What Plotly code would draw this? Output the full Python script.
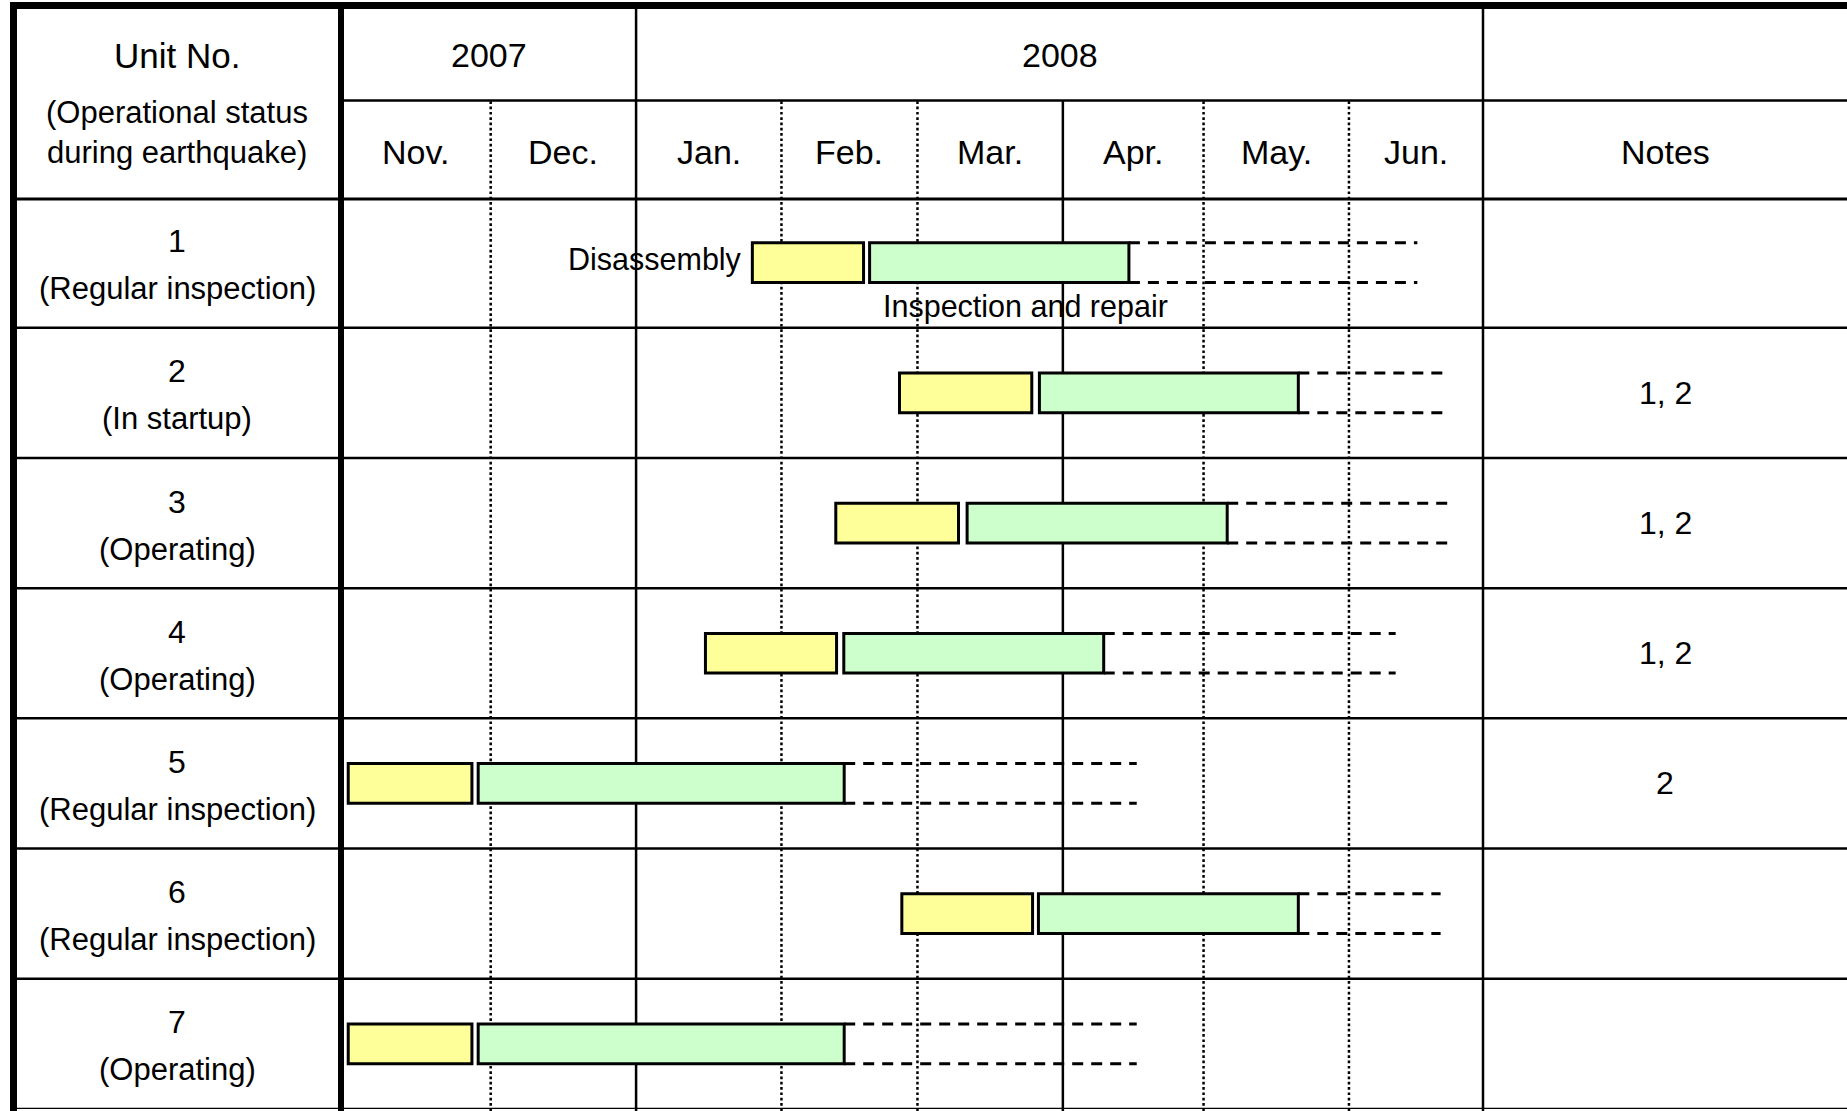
import plotly.graph_objects as go
import pandas as pd

W, H = 1847, 1111
FONT = "Liberation Sans, Arial, Helvetica, sans-serif"

# ---------------- data ----------------
units = ["1", "2", "3", "4", "5", "6", "7"]
status = ["(Regular inspection)", "(In startup)", "(Operating)", "(Operating)",
          "(Regular inspection)", "(Regular inspection)", "(Operating)"]
notes = ["", "1, 2", "1, 2", "1, 2", "2", "", ""]

disassembly_start = ["2008-01-25 19:00", "2008-02-26 04:00", "2008-02-12 14:00", "2008-01-15 19:00",
                     "2007-10-31 15:00", "2008-02-26 16:00", "2007-10-31 15:00"]
disassembly_end = ["2008-02-18 12:00", "2008-03-25 09:00", "2008-03-09 18:00", "2008-02-12 18:00",
                   "2007-11-27 00:00", "2008-03-25 13:00", "2007-11-27 00:00"]
repair_start = ["2008-02-19 19:00", "2008-03-27 00:00", "2008-03-11 14:00", "2008-02-14 07:00",
                "2007-11-28 08:00", "2008-03-26 19:00", "2007-11-28 08:00"]
repair_end = ["2008-04-15 02:00", "2008-05-21 05:00", "2008-05-06 01:00", "2008-04-09 17:00",
              "2008-02-14 09:00", "2008-05-21 05:00", "2008-02-14 09:00"]
extension_end = ["2008-06-15 14:00", "2008-06-21 21:00", "2008-06-22 08:00", "2008-06-10 23:00",
                 "2008-04-16 18:00", "2008-06-20 13:00", "2008-04-16 18:00"]

months = ["Nov.", "Dec.", "Jan.", "Feb.", "Mar.", "Apr.", "May.", "Jun."]
month_starts = ["2007-11-01", "2007-12-01", "2008-01-01", "2008-02-01",
                "2008-03-01", "2008-04-01", "2008-05-01", "2008-06-01"]
solid_month_lines = ["2008-01-01", "2008-04-01"]
years = ["2007", "2008"]
year_start = "2008-01-01"

header_unit = "Unit No."
header_status = ["(Operational status", "during earthquake)"]
header_notes = "Notes"
label_disassembly = "Disassembly"
label_repair = "Inspection and repair"

x_range = ["2007-10-30 02:00", "2008-06-29 14:00"]

# ---------------- helpers ----------------
def px_x(x):
    return x / W


def px_y(y):
    return 1 - y / H


def ms(a, b):
    return [(pd.Timestamp(e) - pd.Timestamp(s)).total_seconds() * 1000 for s, e in zip(a, b)]


def mid(a, b):
    ta, tb = pd.Timestamp(a), pd.Timestamp(b)
    return (ta + (tb - ta) / 2).strftime("%Y-%m-%d %H:%M:%S")


ypos = list(range(1, len(units) + 1))
BW = 0.305
X0, X1 = 341, 1483          # gantt area (px)
Y_TOP, Y_BOT = 197.5, 1109  # body (px)

fig = go.Figure()

# dashed extension lines
dx, dy = [], []
for k, s, e in zip(ypos, repair_end, extension_end):
    for off in (-BW / 2, BW / 2):
        dx += [s, e, None]
        dy += [k + off, k + off, None]
fig.add_trace(go.Scatter(x=dx, y=dy, mode="lines", hoverinfo="skip", showlegend=False,
                         line=dict(color="black", width=3, dash="11px,8px")))

fig.add_trace(go.Bar(orientation="h", y=ypos, base=disassembly_start,
                     x=ms(disassembly_start, disassembly_end), width=BW,
                     marker=dict(color="#FFFF99", line=dict(color="black", width=3)),
                     hoverinfo="skip", showlegend=False))
fig.add_trace(go.Bar(orientation="h", y=ypos, base=repair_start,
                     x=ms(repair_start, repair_end), width=BW,
                     marker=dict(color="#CCFFCC", line=dict(color="black", width=3)),
                     hoverinfo="skip", showlegend=False))

shapes = []
# outer borders
shapes.append(dict(type="line", xref="paper", yref="paper", x0=px_x(10), x1=1,
                   y0=px_y(5.5), y1=px_y(5.5), line=dict(color="black", width=7)))
shapes.append(dict(type="line", xref="paper", yref="paper", x0=px_x(13.5), x1=px_x(13.5),
                   y0=px_y(2), y1=0, line=dict(color="black", width=7)))
# unit column divider (thick)
shapes.append(dict(type="line", xref="paper", yref="paper", x0=px_x(X0), x1=px_x(X0),
                   y0=px_y(5.5), y1=0, line=dict(color="black", width=6)))
# notes column divider
shapes.append(dict(type="line", xref="paper", yref="paper", x0=px_x(X1), x1=px_x(X1),
                   y0=px_y(5.5), y1=0, line=dict(color="black", width=2.5)))
# year / month header separator
shapes.append(dict(type="line", xref="paper", yref="paper", x0=px_x(X0), x1=1,
                   y0=px_y(100.5), y1=px_y(100.5), line=dict(color="black", width=2.5)))
# header bottom (thick)
shapes.append(dict(type="line", xref="paper", yref="y", x0=px_x(10), x1=1,
                   y0=0.5, y1=0.5, line=dict(color="black", width=6)))
# row separators
for k in ypos:
    shapes.append(dict(type="line", xref="paper", yref="y", x0=px_x(10), x1=1,
                       y0=k + 0.5, y1=k + 0.5, line=dict(color="black", width=2.5)))
# month lines
for m in month_starts[1:]:
    if m in solid_month_lines:
        top = px_y(5.5) if m == year_start else px_y(100.5)
        shapes.append(dict(type="line", xref="x", yref="paper", x0=m, x1=m, y0=0, y1=top,
                           layer="below", line=dict(color="black", width=2.5)))
    else:
        shapes.append(dict(type="line", xref="x", yref="paper", x0=m, x1=m, y0=0, y1=px_y(100.5),
                           layer="below", line=dict(color="black", width=2.5, dash="2.7px,2.6px")))

ann = []


def text(x, y, s, size, xref="paper", yref="paper", xanchor="center", **kw):
    d = dict(x=x, y=y, xref=xref, yref=yref, text=s, showarrow=False,
             xanchor=xanchor, yanchor="middle",
             font=dict(family=FONT, size=size, color="black"))
    d.update(kw)
    ann.append(d)


UX = px_x((13.5 + X0) / 2)
text(UX, px_y(55), header_unit, 35)
text(UX, px_y(113), header_status[0], 31)
text(UX, px_y(153), header_status[1], 31)

# years
bounds_year = [x_range[0], year_start, x_range[1]]
for i, yv in enumerate(years):
    text(mid(bounds_year[i], bounds_year[i + 1]), px_y(55), yv, 34, xref="x")

# months
bounds = [x_range[0]] + month_starts[1:] + [x_range[1]]
for i, m in enumerate(months):
    text(mid(bounds[i], bounds[i + 1]), px_y(152), m, 34, xref="x")

NX = px_x((X1 + W) / 2)
text(NX, px_y(152), header_notes, 34)

for k, u, st, nt in zip(ypos, units, status, notes):
    text(UX, k - 0.165, u, 32, yref="y")
    text(UX, k + 0.2, st, 31, yref="y")
    if nt:
        text(NX, k, nt, 32, yref="y")

text(disassembly_start[0], ypos[0] - 0.025, label_disassembly, 30.5, xref="x", yref="y",
     xanchor="right", xshift=-8)
text(repair_start[0], ypos[0] + 0.335, label_repair, 30.5, xref="x", yref="y",
     xanchor="left", xshift=11)

fig.update_layout(
    width=W, height=H, margin=dict(l=0, r=0, t=0, b=0),
    paper_bgcolor="white", plot_bgcolor="rgba(0,0,0,0)",
    barmode="overlay", showlegend=False,
    xaxis=dict(type="date", range=x_range, domain=[px_x(X0), px_x(X1)], visible=False,
               showgrid=False, zeroline=False, fixedrange=True),
    yaxis=dict(range=[len(units) + 0.5, 0.5], domain=[px_y(Y_BOT), px_y(Y_TOP)], visible=False,
               showgrid=False, zeroline=False, fixedrange=True),
    shapes=shapes, annotations=ann,
)

fig.write_html("out.html", config={"displayModeBar": False},
               post_script="document.body.style.margin='0';document.body.style.overflow='hidden';")
